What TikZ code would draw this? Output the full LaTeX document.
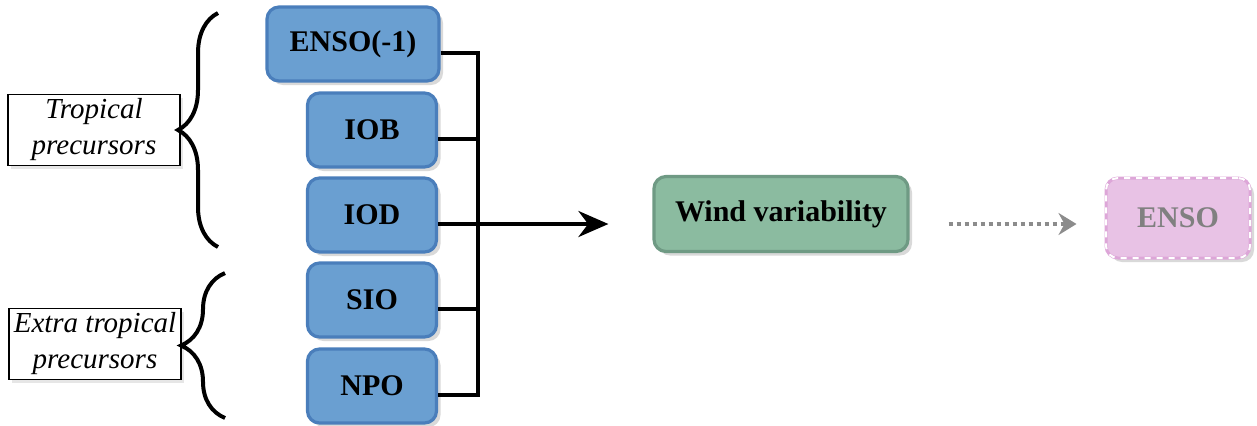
\documentclass[tikz,border=0pt]{standalone}
\usepackage{fontspec}
\setmainfont{Liberation Serif}
\usepackage{tikz}
\usetikzlibrary{arrows.meta, positioning, calc, shadows, decorations.pathreplacing}
\usepackage{xcolor}
\definecolor{ensblue}{HTML}{4A7EBB}
\definecolor{ensfill}{HTML}{6A9FD1}
\definecolor{windgreen}{HTML}{6F9A84}
\definecolor{windfill}{HTML}{8BBBA0}
\definecolor{ensopink}{HTML}{E8C2E5}
\definecolor{ensoedge}{HTML}{DDA6D8}
\definecolor{dotgray}{HTML}{8C8C8C}

\begin{document}
\begin{tikzpicture}[
    x=0.5pt, y=-0.5pt,
    softshadow/.style={drop shadow={opacity=0.3, shadow xshift=2pt, shadow yshift=-2pt}},
    precursor/.style={rectangle, rounded corners=6pt, draw=ensblue, fill=ensfill,
                   minimum width=64.5pt, minimum height=37pt, align=center,
                   font=\fontsize{15}{18}\selectfont\bfseries, line width=1.6pt, softshadow},
    windbox/.style={rectangle, rounded corners=6pt, draw=windgreen, fill=windfill,
                   minimum width=127pt, minimum height=37.5pt, align=center,
                   font=\fontsize{15}{18}\selectfont\bfseries, line width=1.6pt, softshadow},
    targetbox/.style={rectangle, rounded corners=6pt, draw=ensoedge, fill=ensopink,
                   minimum width=72pt, minimum height=40pt, align=center, text=black!50,
                   font=\fontsize{15}{18}\selectfont\bfseries, line width=1.5pt, softshadow,
                   postaction={draw=white, dashed, line width=1pt}},
    groupbox/.style={rectangle, draw=black, fill=white, line width=0.6pt, inner sep=1pt,
                   minimum width=86pt, minimum height=35.5pt, align=center,
                   font=\fontsize{14.5}{18}\selectfont\itshape,
                   drop shadow={opacity=0.2, shadow xshift=1.5pt, shadow yshift=-1.5pt}},
    link/.style={line width=2pt, black, line join=miter},
    mainarrow/.style={-{Stealth[length=15pt, width=13pt]}, line width=2pt, black},
    dotarrow/.style={-{Stealth[length=9pt, width=11pt, inset=3pt]}, line width=2pt, dotgray, dotted},
    brace/.style={decorate, decoration={brace, amplitude=#1}, line width=2pt, black}
  ]
    \useasboundingbox (0,0) rectangle (1257,425);

    % precursor boxes
    \node[precursor, minimum width=86pt] (enso) at (353,44) {ENSO(-1)};
    \node[precursor] (iob) at (372,130) {IOB};
    \node[precursor] (iod) at (372,215) {IOD};
    \node[precursor] (sio) at (372,300) {SIO};
    \node[precursor] (npo) at (372,386) {NPO};

    % response boxes
    \node[windbox] (wind) at (781,214) {Wind variability};
    \node[targetbox] (ensoout) at (1178,218) {ENSO};

    % group labels
    \node[groupbox] (tropical) at (94,130) {Tropical\\precursors};
    \node[groupbox] (extra) at (95,344) {Extra tropical\\precursors};

    % collecting bus
    \coordinate (bus) at (478,0);
    \coordinate (bustop) at ($(enso.east)+(0,9)$);
    \coordinate (busbottom) at ($(npo.east)+(0,9)$);
    \coordinate (busmid) at ($(iod.east)+(0,9)$);
    \draw[link] (bustop) -- (bustop -| bus) -- (busbottom -| bus) -- (busbottom);
    \foreach \n in {iob,iod,sio}
      \draw[link] ($(\n.east)+(0,9)$) -- ++(41,0);

    \draw[mainarrow, shorten >=22pt] (busmid -| bus) -- (busmid -| wind.west);
    \draw[dotarrow, shorten <=19.5pt, shorten >=14pt] (wind.east |- busmid) -- (ensoout.west |- busmid);

    % braces
    \coordinate (trop bottom) at (218,247);
    \coordinate (trop top) at (218,13);
    \coordinate (extra bottom) at (225,418);
    \coordinate (extra top) at (225,273);
    \draw[brace=20pt] (trop bottom) -- (trop top);
    \draw[brace=22pt] (extra bottom) -- (extra top);
  \end{tikzpicture}
\end{document}
